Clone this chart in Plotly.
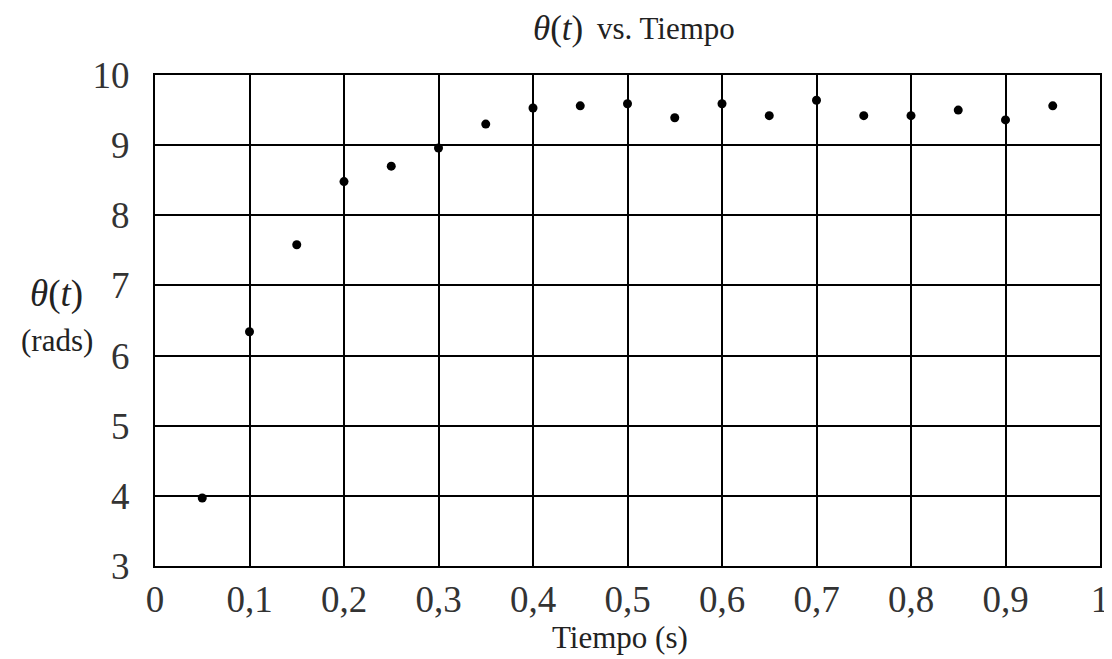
import plotly.graph_objects as go

tiempo = [0.05, 0.10, 0.15, 0.20, 0.25, 0.30, 0.35, 0.40, 0.45, 0.50,
          0.55, 0.60, 0.65, 0.70, 0.75, 0.80, 0.85, 0.90, 0.95]
theta = [3.97, 6.34, 7.58, 8.48, 8.70, 8.96, 9.30, 9.53, 9.56, 9.59,
         9.39, 9.59, 9.42, 9.64, 9.42, 9.42, 9.50, 9.36, 9.56]

x_ticks = [0, 0.1, 0.2, 0.3, 0.4, 0.5, 0.6, 0.7, 0.8, 0.9, 1]
x_labels = ["0", "0,1", "0,2", "0,3", "0,4", "0,5", "0,6", "0,7", "0,8", "0,9", "1"]
y_ticks = [3, 4, 5, 6, 7, 8, 9, 10]

serif = "Liberation Serif, DejaVu Serif, serif"

fig = go.Figure()
fig.add_trace(go.Scatter(
    x=tiempo, y=theta, mode="markers",
    marker=dict(color="black", size=9),
    showlegend=False,
))

fig.update_layout(
    width=1104, height=651,
    margin=dict(l=147, r=12, t=67, b=93, autoexpand=False),
    paper_bgcolor="white", plot_bgcolor="white",
    font=dict(family=serif, color="#222"),
    xaxis=dict(
        range=[0, 1], tickvals=x_ticks, ticktext=x_labels,
        showgrid=True, gridcolor="black", gridwidth=1.5,
        showline=True, linecolor="black", linewidth=2, mirror=True,
        zeroline=False, ticks="", ticklabelstandoff=0, automargin=False,
        tickfont=dict(size=37, family=serif, color="#333"),
    ),
    yaxis=dict(
        range=[3, 10], tickvals=y_ticks,
        showgrid=True, gridcolor="black", gridwidth=1.5,
        showline=True, linecolor="black", linewidth=2, mirror=True,
        zeroline=False, ticks="", ticklabelstandoff=16, automargin=False,
        tickfont=dict(size=37, family=serif, color="#333"),
    ),
)

# title (two parts)
fig.add_annotation(
    text="<i>θ</i>(<i>t</i>)",
    xref="paper", yref="paper", x=0.4545, y=1.094,
    xanchor="right", yanchor="middle", showarrow=False,
    font=dict(size=35, family=serif, color="#222"),
)
fig.add_annotation(
    text="vs. Tiempo",
    xref="paper", yref="paper", x=0.466, y=1.094,
    xanchor="left", yanchor="middle", showarrow=False,
    font=dict(size=31, family=serif, color="#222"),
)
# x-axis title
fig.add_annotation(
    text="Tiempo (s)", xref="paper", yref="paper", x=0.492, y=-0.145,
    xanchor="center", yanchor="middle", showarrow=False,
    font=dict(size=31, family=serif, color="#222"),
)
# y-axis title
fig.add_annotation(
    text="<i>θ</i>(<i>t</i>)", xref="paper", yref="paper",
    x=-0.104, y=0.553, xanchor="center", yanchor="middle",
    showarrow=False, font=dict(size=37, family=serif, color="#222"),
)
fig.add_annotation(
    text="(rads)", xref="paper", yref="paper",
    x=-0.104, y=0.46, xanchor="center", yanchor="middle",
    showarrow=False, font=dict(size=31, family=serif, color="#222"),
)

fig.write_html("out.html")
